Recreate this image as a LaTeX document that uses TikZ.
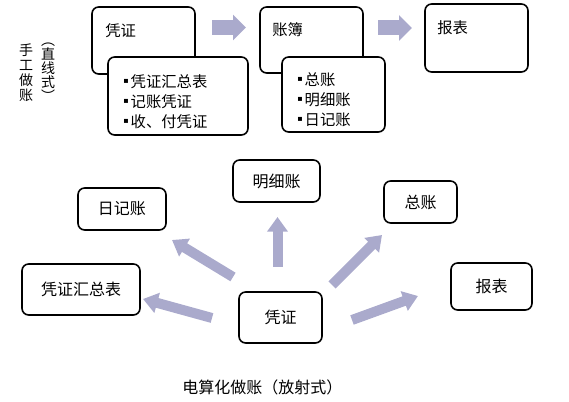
\documentclass[tikz,border=0pt]{standalone}
\usepackage{fontspec}
\setmainfont{Noto Sans CJK SC}
\newfontfamily\dejavu{DejaVu Sans}
\newcommand{\lbul}{\raisebox{2.5pt}{\dejavu\fontsize{6pt}{6pt}\selectfont ▪}\hspace{1.5pt}}
\usetikzlibrary{arrows.meta}
\definecolor{arrowfill}{RGB}{170,170,204}
\tikzset{
	box/.style={draw=black, line width=1.2pt, rounded corners=5pt, fill=white, inner sep=0pt, outer sep=0pt},
	boxtext/.style={inner sep=0pt, font=\fontsize{11.5pt}{14pt}\selectfont},
	listtext/.style={inner sep=0pt, align=left, anchor=north west, font=\fontsize{11.5pt}{15pt}\selectfont},
	fantext/.style={font=\fontsize{12pt}{14pt}\selectfont},
	vtext/.style={inner sep=0pt, align=center, font=\fontsize{10.5pt}{11.25pt}\selectfont},
	toparrow/.style={draw=arrowfill, line width=11.25pt, -{Triangle[length=9.75pt,width=18.75pt]}},
	fanarrow/.style={draw=arrowfill, line width=7.5pt, -{Triangle[length=11pt,width=15pt]}}
}

\begin{document}
\begin{tikzpicture}[x=0.75pt, y=-0.75pt]
			%%%%% START %%%%%
			\useasboundingbox (0, 0) rectangle (569, 402);
			
			% manual bookkeeping, top row
			\node[vtext] (sgzz) at (26, 73) {手\\工\\做\\账};
			\node[vtext, font=\fontsize{10.5pt}{10.5pt}\selectfont] (zxs) at (48, 72) {︵\\直\\线\\式\\︶};
			
			\node[box, minimum width=77.25pt, minimum height=50.25pt] (pz) at (143.5, 40.5) {};
			\node[boxtext, anchor=west] at ([shift={(13, -10)}]pz.west) {凭证};
			\node[box, minimum width=105pt, minimum height=58.5pt] (pzlist) at (178, 96) {};
			\node[listtext] at ([shift={(15, 17)}]pzlist.north west) {\lbul{}凭证汇总表\\\lbul{}记账凭证\\\lbul{}收、付凭证};
			
			\node[box, minimum width=77.25pt, minimum height=49.5pt] (zb) at (311.5, 40) {};
			\node[boxtext, anchor=west] at ([shift={(12, -10)}]zb.west) {账簿};
			\node[box, minimum width=77.25pt, minimum height=56.25pt] (zblist) at (333.5, 94.5) {};
			\node[listtext] at ([shift={(15, 15)}]zblist.north west) {\lbul{}总账\\\lbul{}明细账\\\lbul{}日记账};
			
			\node[box, minimum width=77.25pt, minimum height=51pt] (bb) at (476.5, 38) {};
			\node[boxtext, anchor=west] at ([shift={(12, -10)}]bb.west) {报表};
			
			\draw[toparrow] ([shift={(17, -13)}]pz.east) -- ([shift={(-14, -12.5)}]zb.west);
			\draw[toparrow] ([shift={(15, -12)}]zb.east) -- ([shift={(-13, -10)}]bb.west);
			
			% computerised bookkeeping, fan
			\node[box, fantext, minimum width=62.25pt, minimum height=38.25pt] (pzc) at (280.5, 317.5) {凭证};
			\node[box, fantext, minimum width=66pt, minimum height=31.5pt] (rjz) at (122, 209) {日记账};
			\node[box, fantext, minimum width=88.5pt, minimum height=38.25pt] (pzhz) at (81, 289.5) {凭证汇总表};
			\node[box, fantext, minimum width=65.25pt, minimum height=31.5pt] (mxz) at (276.5, 181) {明细账};
			\node[box, fantext, minimum width=54.75pt, minimum height=31.5pt] (zz) at (420.5, 202) {总账};
			\node[box, fantext, minimum width=60.75pt, minimum height=35.25pt] (bbc) at (491.5, 286.5) {报表};
			
			\draw[fanarrow] ([shift={(-6, -15)}]pzc.north west) -- ([shift={(6, 10)}]rjz.south east);
			\draw[fanarrow] ([shift={(-27, 0.5)}]pzc.west) -- ([shift={(3, 9.5)}]pzhz.east);
			\draw[fanarrow] ([shift={(-3, -25)}]pzc.north) -- ([shift={(1, 15)}]mxz.south);
			\draw[fanarrow] ([shift={(10, -7)}]pzc.north east) -- ([shift={(-2, 12)}]zz.south west);
			\draw[fanarrow] ([shift={(30, 2.5)}]pzc.east) -- ([shift={(-33, 9.5)}]bbc.west);
			
			\node[fantext] (cap) at (262.5, 387) {电算化做账（放射式）};
			%%%%% END %%%%%
\end{tikzpicture}
\end{document}
